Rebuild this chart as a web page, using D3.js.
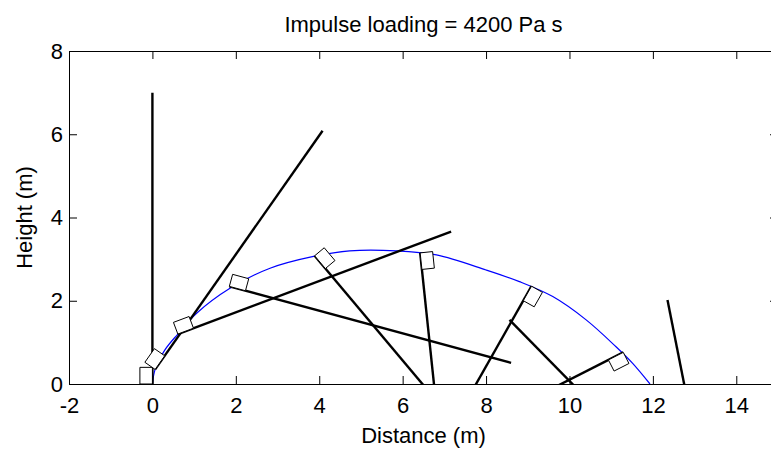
<!DOCTYPE html>
<html>
<head>
<meta charset="utf-8">
<script src="https://cdn.jsdelivr.net/npm/d3@7"></script>
<style>
  body { margin: 0; background: #fff; }
  text { font-family: "Liberation Sans", Arial, sans-serif; }
</style>
</head>
<body>
<script>
// values
const xTicks = [-2, 0, 2, 4, 6, 8, 10, 12, 14];
const yTicks = [0, 2, 4, 6, 8];

// blue trajectory of the pole base (m)
const pathX = [0, 0.065, 0.3, 0.61, 1.06, 1.86, 2.82, 3.89, 4.73, 5.85, 6.81, 8.0, 8.8, 9.6, 10.4, 11.11, 11.51, 11.93];
const pathY = [0, 0.35, 0.82, 1.2, 1.7, 2.3, 2.78, 3.07, 3.2, 3.2, 3.1, 2.74, 2.46, 2.1, 1.54, 0.9, 0.5, 0];

// snapshots: base position (m) and tilt (deg, clockwise from vertical)
const frameX = [0, 0.065, 0.61, 1.845, 3.89, 6.42, 9.09, 11.29, 13.46, 13.71];
const frameY = [0, 0.35, 1.2, 2.345, 3.08, 3.15, 2.35, 0.76, -3.46, -4.85];
const frameAngle = [0, 35, 69.4, 105.2, 140, 174, 209.5, 243, 315.6, 348.8];

const poleLength = 7.0;
const blockW = 0.3,
  blockH = 0.4;

const plot = { left: 69, right: 778, top: 51, bottom: 384 };

const svg = d3
  .select("body")
  .append("svg")
  .attr("width", 771)
  .attr("height", 450);

const x = d3.scaleLinear().domain([-2, 15]).range([plot.left, plot.right]);
const y = d3.scaleLinear().domain([0, 8]).range([plot.bottom, plot.top]);

svg
  .append("clipPath")
  .attr("id", "clip")
  .append("rect")
  .attr("x", plot.left)
  .attr("y", plot.top)
  .attr("width", plot.right - plot.left)
  .attr("height", plot.bottom - plot.top);

const marks = svg.append("g").attr("clip-path", "url(#clip)");

// trajectory
const pathData = pathX.map((d, i) => [d, pathY[i]]);
marks
  .append("path")
  .datum(pathData)
  .attr("fill", "none")
  .attr("stroke", "#0000ff")
  .attr("stroke-width", 1.2)
  .attr("d", d3.line().x((d) => x(d[0])).y((d) => y(d[1])).curve(d3.curveCatmullRom));

// rotate a local point (pole along +y) about the base
function place(i, px, py) {
  const r = (frameAngle[i] * Math.PI) / 180;
  return [
    frameX[i] + px * Math.cos(r) + py * Math.sin(r),
    frameY[i] - px * Math.sin(r) + py * Math.cos(r),
  ];
}

const blockCorners = [
  [0, 0],
  [-blockW, 0],
  [-blockW, blockH],
  [0, blockH],
];

frameX.forEach((d, i) => {
  const tip = place(i, 0, poleLength);
  marks
    .append("line")
    .attr("x1", x(frameX[i]))
    .attr("y1", y(frameY[i]))
    .attr("x2", x(tip[0]))
    .attr("y2", y(tip[1]))
    .attr("stroke", "#000")
    .attr("stroke-width", 2.4);

  const pts = blockCorners.map((c) => place(i, c[0], c[1]));
  marks
    .append("polygon")
    .attr("points", pts.map((p) => x(p[0]) + "," + y(p[1])).join(" "))
    .attr("fill", "#fff")
    .attr("stroke", "#000")
    .attr("stroke-width", 1);
});

// axes box, ticks pointing in
const fmt = (d) => String(d);

svg
  .append("g")
  .attr("transform", `translate(0,${plot.bottom})`)
  .call(d3.axisBottom(x).tickValues(xTicks).tickSize(-8).tickSizeOuter(0).tickPadding(13).tickFormat(fmt))
  .attr("font-size", 22)
  .attr("font-family", "Liberation Sans, Arial, sans-serif");

svg
  .append("g")
  .attr("transform", `translate(${plot.left},0)`)
  .call(d3.axisLeft(y).tickValues(yTicks).tickSize(-8).tickSizeOuter(0).tickPadding(6).tickFormat(fmt))
  .attr("font-size", 22)
  .attr("font-family", "Liberation Sans, Arial, sans-serif");

svg
  .append("g")
  .attr("transform", `translate(0,${plot.top})`)
  .call(d3.axisTop(x).tickValues(xTicks).tickSize(-8).tickSizeOuter(0).tickFormat(""));

svg
  .append("g")
  .attr("transform", `translate(${plot.right},0)`)
  .call(d3.axisRight(y).tickValues(yTicks).tickSize(-8).tickSizeOuter(0).tickFormat(""));

// title and axis labels
svg
  .append("text")
  .attr("x", (plot.left + plot.right) / 2)
  .attr("y", 31.5)
  .attr("text-anchor", "middle")
  .style("font-size", "22px")
  .text("Impulse loading = 4200 Pa s");

svg
  .append("text")
  .attr("x", (plot.left + plot.right) / 2)
  .attr("y", 443)
  .attr("text-anchor", "middle")
  .style("font-size", "22px")
  .text("Distance (m)");

svg
  .append("text")
  .attr("transform", `translate(31.5,${(plot.top + plot.bottom) / 2}) rotate(-90)`)
  .attr("text-anchor", "middle")
  .style("font-size", "22px")
  .text("Height (m)");
</script>
</body>
</html>
